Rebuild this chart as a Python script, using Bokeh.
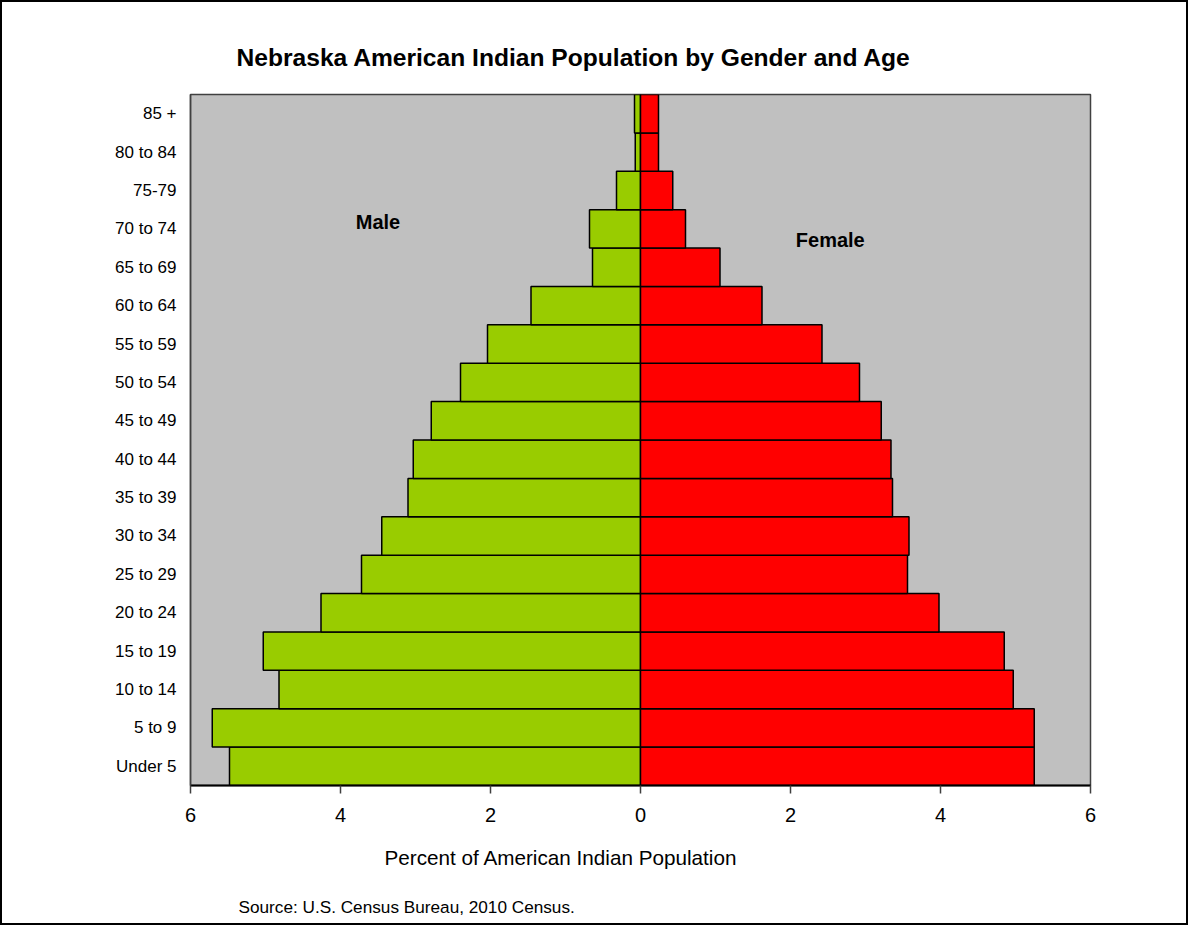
from bokeh.plotting import figure
from bokeh.models import FactorRange, Range1d, FixedTicker, Label, Title, ColumnDataSource
from bokeh.embed import file_html
from bokeh.resources import INLINE

# ---- data ----
ages = ["Under 5", "5 to 9", "10 to 14", "15 to 19", "20 to 24", "25 to 29",
        "30 to 34", "35 to 39", "40 to 44", "45 to 49", "50 to 54", "55 to 59",
        "60 to 64", "65 to 69", "70 to 74", "75-79", "80 to 84", "85 +"]
male = [5.48, 5.71, 4.82, 5.03, 4.26, 3.72, 3.45, 3.10, 3.03, 2.79, 2.40, 2.04,
        1.46, 0.64, 0.68, 0.32, 0.07, 0.08]
female = [5.25, 5.25, 4.97, 4.85, 3.98, 3.56, 3.58, 3.36, 3.34, 3.21, 2.92, 2.42,
          1.62, 1.06, 0.60, 0.43, 0.24, 0.24]
x_ticks = [-6, -4, -2, 0, 2, 4, 6]
x_tick_labels = ["6", "4", "2", "0", "2", "4", "6"]

title_text = "Nebraska  American Indian Population by Gender and Age"
x_title = "Percent of American Indian Population"
source_text = "Source: U.S. Census Bureau, 2010 Census."

FONT = "Liberation Sans"

src = ColumnDataSource(dict(age=ages,
                            male_left=[-v for v in male],
                            female=female,
                            zero=[0] * len(ages)))

p = figure(y_range=FactorRange(*ages), x_range=Range1d(-6, 6),
           frame_width=900, frame_height=691,
           min_border_left=188, min_border_right=96,
           min_border_top=92, min_border_bottom=136,
           output_backend="svg", toolbar_location=None)
p.styles = {"border": "2px solid black"}

p.background_fill_color = "#C0C0C0"
p.border_fill_color = "white"
p.outline_line_color = "#404040"
p.outline_line_width = 1.5
p.xgrid.grid_line_color = None
p.ygrid.grid_line_color = None

p.hbar(y="age", left="male_left", right="zero", height=1.0, source=src,
       fill_color="#99CC00", line_color="black", line_width=1.5)
p.hbar(y="age", left="zero", right="female", height=1.0, source=src,
       fill_color="#FF0000", line_color="black", line_width=1.5)

# x axis
xa = p.xaxis[0]
xa.ticker = FixedTicker(ticks=x_ticks)
xa.major_label_overrides = {t: l for t, l in zip(x_ticks, x_tick_labels)}
xa.minor_tick_line_color = None
xa.major_tick_in = 0
xa.major_tick_out = 8
xa.major_tick_line_color = "#404040"
xa.major_tick_line_width = 1.5
xa.axis_line_color = "black"
xa.axis_line_width = 2
xa.major_label_text_font = FONT
xa.major_label_text_font_size = "20px"
xa.major_label_text_color = "black"
xa.major_label_standoff = 14

# y axis
ya = p.yaxis[0]
ya.major_tick_line_color = None
ya.minor_tick_line_color = None
ya.axis_line_color = "#404040"
ya.axis_line_width = 1.5
ya.major_label_text_font = FONT
ya.major_label_text_font_size = "17px"
ya.major_label_text_color = "black"
ya.major_label_standoff = 8

# titles
p.title = Title(text=title_text, align="left", offset=46,
                text_font=FONT, text_font_size="24.6px", text_font_style="bold",
                text_color="black", standoff=47)

p.add_layout(Title(text=x_title, align="left", offset=194,
                   text_font=FONT, text_font_size="20.7px", text_font_style="normal",
                   text_color="black", standoff=38), "below")
p.add_layout(Title(text=source_text, align="left", offset=48,
                   text_font=FONT, text_font_size="17.2px", text_font_style="normal",
                   text_color="black", standoff=14), "below")

# gender labels
p.add_layout(Label(x=-3.5, y=14.67, text="Male", text_align="center",
                   text_baseline="middle", text_font=FONT, text_font_size="20px",
                   text_font_style="bold", text_color="black"))
p.add_layout(Label(x=2.53, y=14.20, text="Female", text_align="center",
                   text_baseline="middle", text_font=FONT, text_font_size="20px",
                   text_font_style="bold", text_color="black"))

open("out.html", "w").write(file_html(p, INLINE))
